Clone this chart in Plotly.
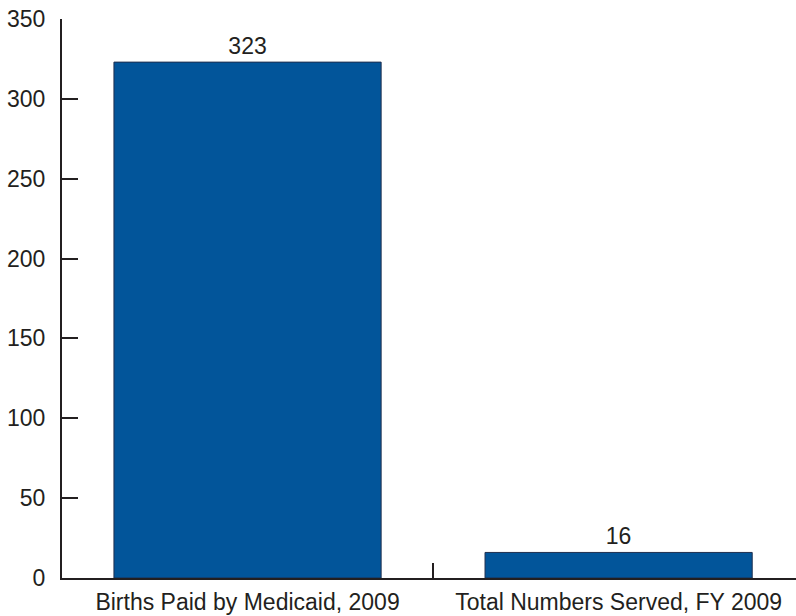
import plotly.graph_objects as go

categories = ["Births Paid by Medicaid, 2009", "Total Numbers Served, FY 2009"]
values = [323, 16]
y_ticks = [0, 50, 100, 150, 200, 250, 300, 350]

FONT = "Liberation Sans, Arial, sans-serif"
TXT = "#231f20"

fig = go.Figure()
fig.add_trace(go.Bar(
    x=categories, y=values,
    width=0.72,
    marker=dict(color="#02559A", line=dict(color="#1f2f4f", width=1)),
    text=[str(v) for v in values],
    textposition="outside",
    textfont=dict(family=FONT, size=23, color=TXT),
    cliponaxis=False,
))

fig.update_layout(
    width=796, height=616,
    margin=dict(l=62, r=0, t=19, b=38, autoexpand=False),
    paper_bgcolor="white", plot_bgcolor="white",
    showlegend=False,
    font=dict(family=FONT, size=23, color=TXT),
)
fig.update_xaxes(
    type="category",
    range=[-0.5, 1.478],
    showline=True, linecolor="#231f20", linewidth=2,
    ticks="inside", tickson="boundaries", ticklen=15, tickwidth=2, tickcolor="#231f20",
    showgrid=False, zeroline=False,
    tickfont=dict(family=FONT, size=23, color=TXT),
    ticklabelstandoff=2,
    ticklabeloverflow="allow",
    automargin=False,
)
fig.update_yaxes(
    range=[0, 350],
    tickvals=y_ticks,
    showline=True, linecolor="#231f20", linewidth=2,
    ticks="inside", ticklen=16, tickwidth=2, tickcolor="#231f20",
    showgrid=False, zeroline=False,
    tickfont=dict(family=FONT, size=23, color=TXT),
    ticklabelstandoff=10,
    ticklabeloverflow="allow",
    automargin=False,
)

fig.write_html(
    "out.html",
    config={"displayModeBar": False},
    post_script="document.body.style.margin='0';",
)
